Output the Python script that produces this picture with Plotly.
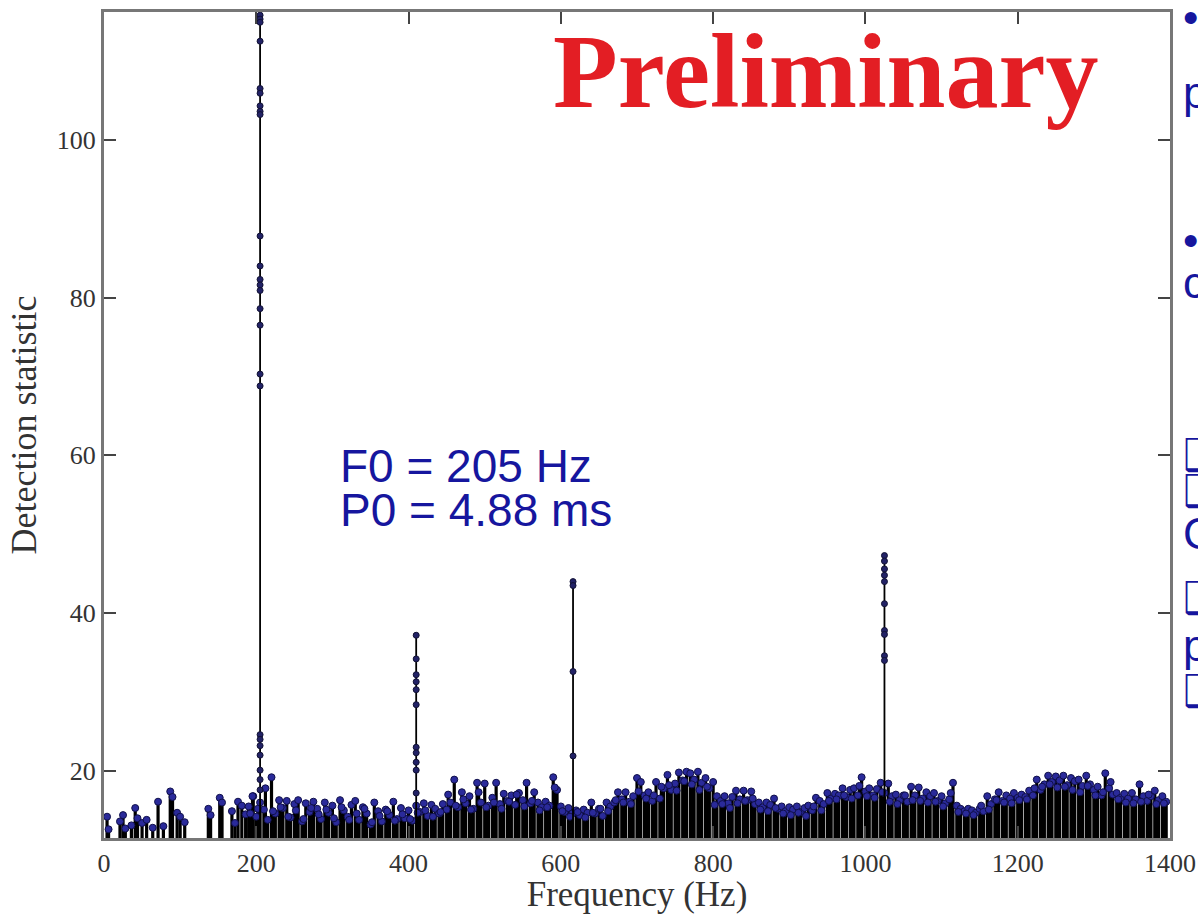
import plotly.graph_objects as go

# ---------------- data ----------------
# sparse low-frequency candidates (Hz, detection statistic)
low_freq = [4, 6, 21, 25, 28, 36, 41, 44, 50, 56, 64, 71, 78, 87, 90, 96, 100, 106,
            137, 140, 152, 155, 168, 172, 176, 181, 186, 196]
low_stat = [14.2, 12.6, 13.6, 14.4, 12.7, 13.1, 15.3, 14.0, 13.4, 13.8, 12.8, 16.1, 13.0, 17.4,
            16.7, 14.7, 14.2, 13.5, 15.2, 14.4, 16.6, 16.0, 14.9, 13.4, 16.1, 15.6, 14.5, 16.8]

# dense candidate band, one value every 5 Hz from 190 Hz to 1395 Hz
band_start_hz = 190
band_step_hz = 5
band_stat = [
    15.5, 16.8, 14.2, 16.0, 15.1, 13.8, 19.2, 14.6, 16.3, 15.3,
    16.2, 14.1, 15.8, 16.3, 13.6, 15.9, 14.8, 16.1, 15.2, 13.9,
    16.0, 14.7, 15.6, 13.5, 16.3, 15.0, 14.2, 15.7, 16.2, 13.8,
    15.4, 14.6, 13.2, 16.0, 14.9, 13.6, 15.1, 14.4, 16.1, 13.9,
    15.3, 14.0, 15.0, 13.7, 15.6, 14.8, 15.9, 14.3, 15.7, 15.2,
    14.6, 15.8, 15.1, 16.0, 18.9, 15.4, 17.3, 15.9, 16.8, 15.2,
    18.5, 16.0, 18.4, 15.6, 16.6, 18.5, 15.8, 17.1, 16.2, 16.9,
    15.7, 17.2, 16.3, 18.5, 15.9, 17.3, 16.0, 15.4, 16.1, 15.6,
    19.2, 17.6, 15.5, 14.8, 15.3, 14.6, 15.0, 14.4, 15.1, 14.7,
    16.0, 14.6, 15.2, 14.3, 16.0, 15.5, 16.0, 17.3, 16.4, 17.3,
    16.1, 16.8, 19.1, 18.6, 16.9, 17.3, 16.2, 18.6, 16.5, 17.8,
    19.5, 17.6, 18.4, 19.8, 18.8, 19.9, 19.7, 18.9, 19.9, 18.5,
    19.1, 17.8, 18.6, 16.8, 16.2, 16.8, 15.9, 16.7, 17.5, 16.4,
    17.5, 16.3, 17.4, 15.8, 16.0, 15.4, 16.0, 15.7, 16.5, 15.2,
    15.5, 14.9, 15.4, 15.1, 15.5, 14.8, 15.3, 15.6, 15.0, 16.6,
    16.2, 15.8, 17.2, 16.5, 17.1, 16.9, 17.8, 16.7, 17.6, 17.8,
    16.9, 19.2, 17.4, 17.8, 16.9, 17.7, 18.5, 17.2, 18.4, 16.8,
    17.0, 16.3, 16.9, 16.1, 18.0, 16.9, 17.9, 16.5, 17.3, 16.8,
    17.2, 16.2, 16.8, 15.9, 16.4, 18.5, 15.6, 15.2, 14.9, 15.2,
    15.0, 14.7, 15.2, 14.9, 16.8, 15.8, 16.4, 17.3, 16.2, 16.9,
    16.5, 17.2, 16.6, 17.0, 16.7, 17.5, 16.9, 18.9, 17.6, 18.3,
    19.4, 18.6, 19.3, 18.8, 19.4, 18.2, 19.1, 18.7, 18.9, 18.1,
    19.4, 18.3, 17.6, 18.0, 16.9, 19.7, 17.8, 17.0, 17.2, 16.6,
    17.1, 16.5, 17.2, 16.4, 18.3, 16.8, 16.2, 16.8, 17.5, 16.3,
    16.8, 16.1,
]

# secondary (weaker) candidates in the band, one every 10 Hz from 192 Hz
band2_start_hz = 192
band2_step_hz = 10
band2_stat = [
    14.6, 15.2, 17.8, 14.9, 15.4, 14.2, 15.0, 13.9, 15.3, 14.5,
    15.1, 14.0, 15.4, 13.8, 14.6, 15.2, 13.5, 14.3, 14.9, 13.7,
    14.5, 13.9, 14.7, 15.0, 14.2, 14.8, 17.0, 15.6, 16.4, 15.1,
    17.3, 15.4, 16.0, 15.2, 16.1, 17.0, 15.5, 16.2, 15.0, 15.4,
    17.9, 14.9, 14.2, 14.8, 14.1, 14.7, 15.2, 14.9, 16.3, 16.0,
    15.8, 17.4, 16.5, 16.9, 18.0, 18.2, 17.5, 18.7, 18.3, 17.6,
    18.0, 15.7, 15.8, 15.3, 15.9, 16.2, 16.5, 15.1, 14.9, 15.3,
    14.6, 14.4, 14.7, 14.3, 15.5, 15.0, 16.2, 16.4, 16.9, 16.5,
    18.1, 16.8, 16.6, 17.3, 16.1, 15.8, 16.9, 16.3, 16.2, 16.0,
    16.1, 15.5, 17.2, 14.8, 14.6, 14.4, 15.6, 15.1, 16.3, 16.0,
    15.9, 16.3, 16.4, 17.8, 18.0, 18.3, 17.9, 18.0, 17.6, 17.3,
    18.1, 16.9, 17.3, 18.6, 16.4, 16.0, 15.9, 16.1, 17.0, 15.8,
    15.9,
]

# harmonic detections: F0 and its multiples
peak_freq = [205, 410, 616, 1025]
peak_stats = [
    [115.8, 115.3, 114.9, 112.5, 106.5, 105.9, 104.3, 103.6, 103.2, 87.8, 84.0, 82.3, 81.6,
     80.9, 78.6, 76.5, 70.3, 68.8, 24.6, 24.0, 23.2, 22.0, 20.1, 18.9, 17.6],
    [37.2, 34.2, 32.2, 31.3, 30.3, 28.4, 23.0, 22.3, 21.1, 20.1, 17.2],
    [44.0, 43.5, 32.6, 21.9],
    [47.3, 46.6, 45.6, 44.8, 44.0, 41.2, 37.8, 37.3, 34.6, 34.0],
]

x_ticks = [0, 200, 400, 600, 800, 1000, 1200, 1400]
y_ticks = [20, 40, 60, 80, 100]
x_range = [0, 1400]
y_range = [11.5, 116.2]

# ---------------- build figure ----------------
band_freq = [band_start_hz + band_step_hz * i for i in range(len(band_stat))]
band2_freq = [band2_start_hz + band2_step_hz * i for i in range(len(band2_stat))]
base = y_range[0]

def stems(xs, ys):
    sx, sy = [], []
    for xv, yv in zip(xs, ys):
        sx += [xv, xv, None]
        sy += [base, yv, None]
    return sx, sy

fig = go.Figure()

all_f = low_freq + band_freq + band2_freq
all_s = low_stat + band_stat + band2_stat
nx, ny = stems(all_f, all_s)
fig.add_trace(go.Scatter(x=nx, y=ny, mode="lines",
                         line=dict(color="#000000", width=3.2),
                         hoverinfo="skip", showlegend=False))
fig.add_trace(go.Scatter(x=all_f, y=all_s, mode="markers",
                         marker=dict(size=7, color="#2a2a9a",
                                     line=dict(color="#10104a", width=1)),
                         showlegend=False))

px_, py_ = stems(peak_freq, [max(v) for v in peak_stats])
fig.add_trace(go.Scatter(x=px_, y=py_, mode="lines",
                         line=dict(color="#000000", width=1.8),
                         hoverinfo="skip", showlegend=False))
pk_x, pk_y = [], []
for f, vals in zip(peak_freq, peak_stats):
    pk_x += [f] * len(vals)
    pk_y += vals
fig.add_trace(go.Scatter(x=pk_x, y=pk_y, mode="markers",
                         marker=dict(size=6, color="#222266",
                                     line=dict(color="#111133", width=1)),
                         showlegend=False))

serif = "Liberation Serif, Times New Roman, serif"
sans = "Liberation Sans, Arial, sans-serif"
blue = "#16169e"

axis_common = dict(showline=True, linecolor="#777777", linewidth=3, mirror="ticks",
                   ticks="inside", ticklen=12, tickwidth=1.5, tickcolor="#444444",
                   showgrid=False, zeroline=False, automargin=False,
                   tickfont=dict(family=serif, size=26, color="#333333"))

fig.update_xaxes(range=x_range, tickvals=x_ticks, **axis_common,
                 title=dict(text="Frequency (Hz)", font=dict(family=serif, size=35, color="#333333"),
                            standoff=8))
fig.update_yaxes(range=y_range, tickvals=y_ticks, **axis_common,
                 title=dict(text="Detection statistic", font=dict(family=serif, size=36, color="#333333"),
                            standoff=10))

L, R, T, B = 104, 1170, 12, 838
def px2paper(xp, yp):
    return (xp - L) / (R - L), (B - yp) / (B - T)

ann = []
x0, y0 = px2paper(826, 72)
ann.append(dict(x=x0, y=y0, xref="paper", yref="paper", text="<b>Preliminary</b>",
                showarrow=False, xanchor="center", yanchor="middle",
                font=dict(family=serif, size=106, color="#e31e24")))
x0, y0 = px2paper(338, 466)
ann.append(dict(x=x0, y=y0, xref="paper", yref="paper", text="F0 = 205 Hz",
                showarrow=False, xanchor="left", yanchor="middle",
                font=dict(family=sans, size=46, color=blue)))
x0, y0 = px2paper(338, 510)
ann.append(dict(x=x0, y=y0, xref="paper", yref="paper", text="P0 = 4.88 ms",
                showarrow=False, xanchor="left", yanchor="middle",
                font=dict(family=sans, size=46, color=blue)))

side_text = [("•", 18), ("p", 92), ("•", 240), ("c", 282), ("❑", 455), ("❑", 490),
             ("C", 533), ("❑", 597), ("p", 645), ("❑", 690)]
for t, yp in side_text:
    x0, y0 = px2paper(1181, yp)
    ann.append(dict(x=x0, y=y0, xref="paper", yref="paper", text=t,
                    showarrow=False, xanchor="left", yanchor="middle",
                    font=dict(family=sans, size=44, color=blue)))

fig.update_layout(width=1198, height=914,
                  margin=dict(l=L, r=1198 - R, t=T, b=914 - B, autoexpand=False),
                  paper_bgcolor="white", plot_bgcolor="white",
                  annotations=ann, showlegend=False)

fig.write_html("out.html")
